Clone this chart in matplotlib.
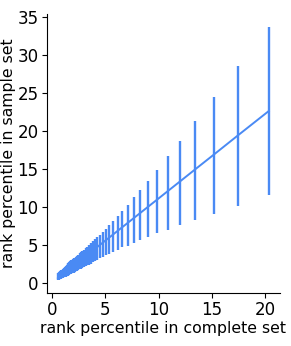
import numpy as np
import matplotlib
matplotlib.use("Agg")
import matplotlib.pyplot as plt

# x: rank percentile in complete set, y: mean / low / high rank percentile in sample set
x_pct = [20.35, 17.49, 15.24, 13.45, 12.04, 10.85, 9.87, 9.03, 8.28, 7.65,
         7.08, 6.55, 6.14, 5.74, 5.36, 5.01, 4.73, 4.48, 4.24, 4.01,
         3.81, 3.62, 3.44, 3.28, 3.12, 2.97, 2.83, 2.70, 2.57, 2.45,
         2.33, 2.22, 2.11, 2.00, 1.90, 1.80, 1.70, 1.61, 1.52, 1.43,
         1.34, 1.25, 1.16, 1.07, 0.98, 0.89, 0.80, 0.71, 0.62, 0.53]
y_mid = [22.57, 19.41, 16.90, 14.92, 13.35, 12.03, 10.94, 10.01, 9.18, 8.48,
         7.85, 7.26, 6.81, 6.36, 5.94, 5.56, 5.24, 4.97, 4.70, 4.45,
         4.22, 4.01, 3.81, 3.64, 3.46, 3.29, 3.14, 2.99, 2.85, 2.72,
         2.58, 2.46, 2.34, 2.22, 2.11, 2.00, 1.89, 1.79, 1.69, 1.59,
         1.49, 1.39, 1.29, 1.19, 1.09, 0.99, 0.89, 0.79, 0.69, 0.59]
y_low = [11.59, 10.10, 9.09, 8.25, 7.55, 6.93, 6.50, 5.97, 5.62, 5.22,
         4.87, 4.65, 4.34, 3.99, 3.82, 3.60, 3.42, 3.22, 3.00, 2.82,
         2.66, 2.50, 2.38, 2.26, 2.14, 2.03, 1.93, 1.83, 1.74, 1.65,
         1.56, 1.48, 1.40, 1.32, 1.25, 1.18, 1.11, 1.04, 0.98, 0.92,
         0.86, 0.80, 0.74, 0.68, 0.62, 0.56, 0.50, 0.45, 0.40, 0.32]
y_high = [33.68, 28.54, 24.46, 21.20, 18.57, 16.60, 14.84, 13.43, 12.20, 11.20,
          10.18, 9.44, 8.78, 8.12, 7.59, 7.11, 6.67, 6.30, 6.00, 5.70,
          5.45, 5.20, 4.95, 4.75, 4.55, 4.35, 4.15, 4.00, 3.85, 3.70,
          3.55, 3.40, 3.30, 3.20, 3.10, 3.00, 2.85, 2.70, 2.60, 2.45,
          2.35, 2.20, 2.10, 1.95, 1.85, 1.70, 1.60, 1.50, 1.40, 1.30]

x_ticks = [0, 5, 10, 15, 20]
y_ticks = [0, 5, 10, 15, 20, 25, 30, 35]

color = "#4a8af4"

fig = plt.figure(figsize=(2.91, 3.46), dpi=100)
ax = fig.add_axes([0.1615, 0.153, 0.8005, 0.807])

x = np.array(x_pct)
mid = np.array(y_mid)
yerr = np.vstack([mid - np.array(y_low), np.array(y_high) - mid])
ax.errorbar(x, mid, yerr=yerr, color=color, ecolor=color,
            linewidth=1.4, elinewidth=1.7, capsize=0)

ax.set_xlim(-0.5, 21.4)
ax.set_ylim(-1.37, 35.35)
ax.set_xticks(x_ticks)
ax.set_yticks(y_ticks)
ax.tick_params(labelsize=12, length=3.5, width=0.8, pad=2.5)
ax.set_xlabel("rank percentile in complete set", fontsize=11.3, labelpad=1)
ax.set_ylabel("rank percentile in sample set", fontsize=11.3, labelpad=1)

# 위/오른쪽 축선 제거
ax.spines["top"].set_visible(False)
ax.spines["right"].set_visible(False)

fig.savefig("out.png", dpi=100)
